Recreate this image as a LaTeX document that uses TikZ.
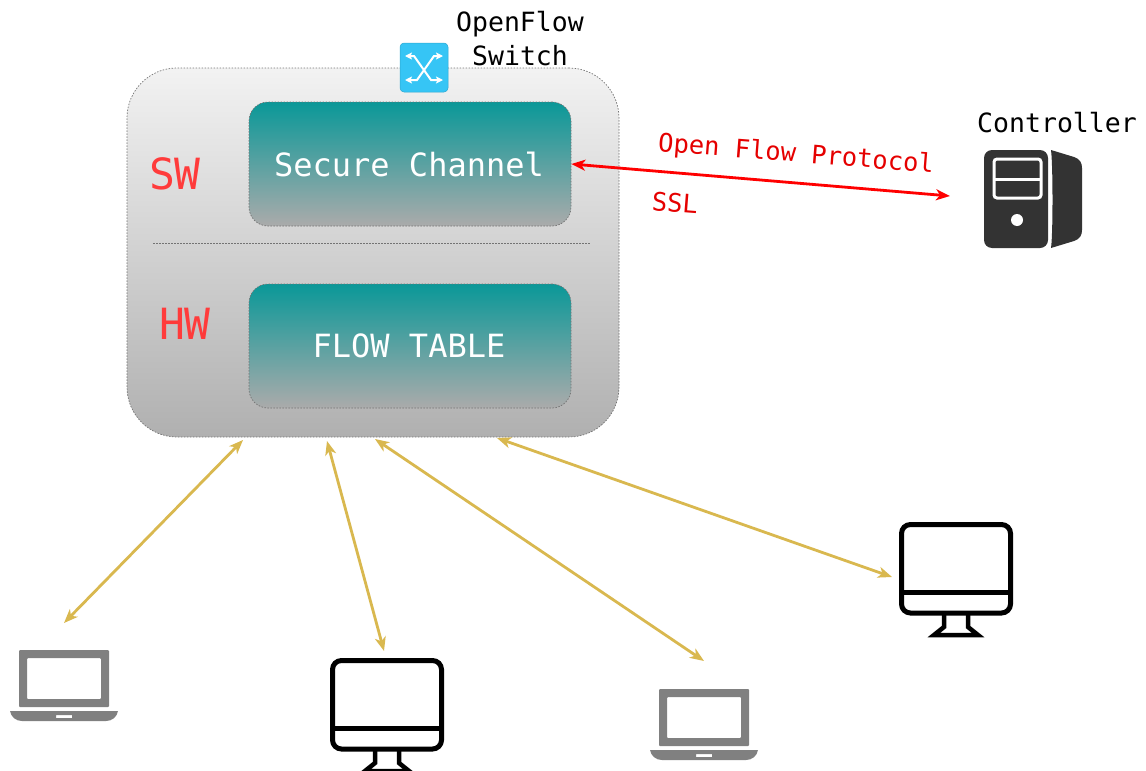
\documentclass[tikz,border=0pt]{standalone}
\usepackage{fontspec}
\setmainfont{DejaVu Sans Mono}
\usepackage{tikz}
\usetikzlibrary{arrows.meta}
\definecolor{linkgold}{HTML}{D9B84F}
\definecolor{chanteal}{HTML}{0A9898}
\definecolor{swblue}{HTML}{36C5F5}
\definecolor{sigred}{HTML}{FF3B3B}
\tikzset{
  switchbox/.style={draw=black!55, dashed, dash pattern=on 1.5pt off 1.5pt, line width=.7pt, rounded corners=50pt, minimum width=492pt, minimum height=369pt, inner sep=0pt, top color=black!5, bottom color=black!31},
  modulebox/.style={draw=black!55, dashed, dash pattern=on 1.5pt off 1.5pt, line width=.7pt, rounded corners=19pt, minimum width=322pt, minimum height=124pt, inner sep=0pt, text=white, top color=chanteal, bottom color=black!33, font=\fontsize{32}{36}\selectfont},
  layertext/.style={text=sigred, font=\fontsize{43}{46}\selectfont},
  nametext/.style={align=center, font=\fontsize{26.5}{34}\selectfont},
  prototext/.style={text=red!90!black, font=\fontsize{25.5}{28}\selectfont, rotate=-4.5},
  linkarrow/.style={{Stealth[length=14pt,width=11pt,inset=4pt]}-{Stealth[length=14pt,width=11pt,inset=4pt]}, color=linkgold, line width=2.8pt},
  iconarrow/.style={{Stealth[length=7pt,width=7pt,inset=1.5pt]}-{Stealth[length=7pt,width=7pt,inset=1.5pt]}, white, line width=2pt},
  laptop/.pic={
    \fill[black!50, even odd rule, rounded corners=1pt] (19,0) rectangle (109,57) (27,8) rectangle (101,49);
    \fill[black!50, even odd rule] (10,61) -- (118,61) .. controls (117,67) and (112,71) .. (106,71) -- (22,71) .. controls (16,71) and (11,67) .. (10,61) -- cycle (56,65) rectangle (72,68);
  },
  desktop/.pic={
    \draw[black, line width=5pt, rounded corners=9pt] (2.5,2.5) rectangle (111.5,91);
    \draw[black, line width=5pt] (2.5,70) -- (111.5,70);
    \draw[black, line width=4.5pt, line join=miter] (45,92) -- (45,105) -- (35,113) -- (79,113) -- (69,105) -- (69,92);
  },
}
\begin{document}
\begin{tikzpicture}[x=1pt, y=-1pt]
  \useasboundingbox (0,0) rectangle (1146,771);

  %%% switch with its two layers
  \node[switchbox] (switch) at (373,252.5) {};
  \node[modulebox] (secure) at (410,164) {\hspace{-2pt}Secure Channel};
  \node[modulebox] (flowtable) at (410,346) {\raisebox{-1pt}{\hspace{-2pt}FLOW TABLE}};
  \coordinate (sepleft) at (153,243);
  \coordinate (sepright) at (590,243);
  \draw[black!55, dashed, dash pattern=on 1.5pt off 1.5pt, line width=.7pt] (sepleft) -- (sepright);
  \node[layertext] (swlabel) at (175,174) {SW};
  \node[layertext] (hwlabel) at (185,324) {HW};

  %%% switch icon
  \node[fill=swblue, draw=swblue!85!black, line width=.5pt, rounded corners=4pt, minimum width=48pt, minimum height=49pt, inner sep=0pt] (swicon) at (424,67.5) {};
  \draw[iconarrow] (405,56) -- (414,56) -- (431,80) -- (443,80);
  \draw[iconarrow] (443,56) -- (434,56) -- (417,80) -- (405,80);
  \node[nametext] (swname) at (520,39) {OpenFlow\\Switch};

  %%% controller
  \node[nametext] (ctrlname) at (1057,123) {Controller};
  \node[fill=black!80, rounded corners=8pt, minimum width=64pt, minimum height=98pt, inner sep=0pt] (server) at (1016,199) {};
  \fill[black!80] (1051,150) -- (1074,157) .. controls (1080,159) and (1082,163) .. (1082,168) -- (1082,230) .. controls (1082,235) and (1080,239) .. (1074,241) -- (1051,248) .. controls (1053,235) and (1053,165) .. (1051,150) -- cycle;
  \draw[white, line width=3pt, rounded corners=3pt] (994,159) rectangle (1041,198);
  \draw[white, line width=3pt] (994,179) -- (1041,179);
  \fill[white] (1017,220) circle (6);

  %%% protocol link
  \coordinate (ctrlport) at (950,196);
  \draw[linkarrow, color=red] (secure.east) -- (ctrlport);
  \node[prototext] (oflabel) at (796,155) {Open Flow Protocol};
  \node[prototext] (ssllabel) at (675,203) {SSL};

  %%% hosts
  \pic at (0,650) {laptop};
  \pic at (330,658) {desktop};
  \pic at (640,689) {laptop};
  \pic at (899,522) {desktop};

  \coordinate (portA) at (243,440);
  \coordinate (portB) at (327,441);
  \coordinate (portC) at (375,439);
  \coordinate (portD) at (497,438);
  \coordinate (hostA) at (64,623);
  \coordinate (hostB) at (384,651);
  \coordinate (hostC) at (704,661);
  \coordinate (hostD) at (892,577);
  \draw[linkarrow] (portA) -- (hostA);
  \draw[linkarrow] (portB) -- (hostB);
  \draw[linkarrow] (portC) -- (hostC);
  \draw[linkarrow] (portD) -- (hostD);
\end{tikzpicture}
\end{document}
